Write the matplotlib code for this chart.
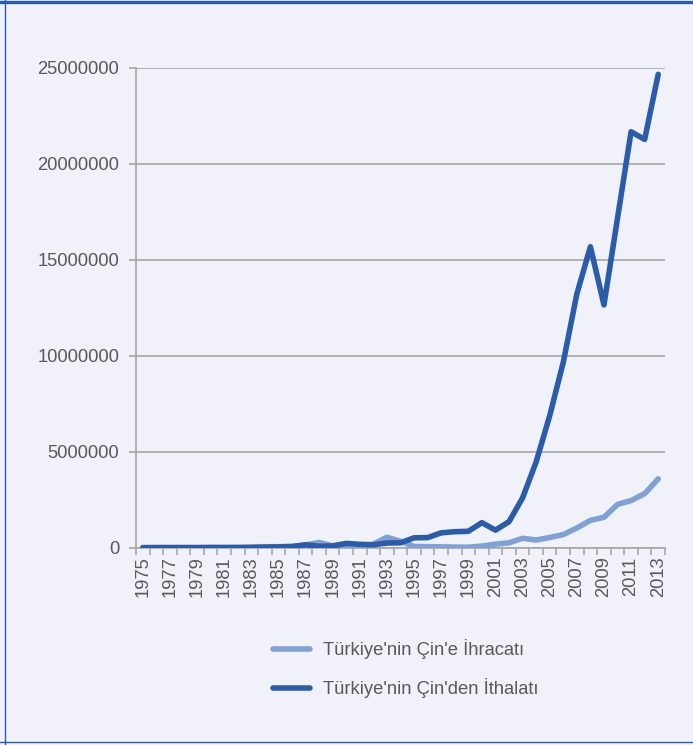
import matplotlib.pyplot as plt
import numpy as np
from matplotlib.lines import Line2D

years = list(range(1975, 2014))
ihracat = [5, 5, 5, 5, 5, 10, 10, 15, 30, 60, 70, 90, 150, 290, 110, 50,
           60, 200, 560, 350, 80, 70, 60, 50, 40, 100, 200, 270, 505, 415,
           550, 700, 1040, 1440, 1600, 2270, 2470, 2830, 3600]
ithalat = [20, 25, 25, 25, 25, 30, 30, 30, 35, 45, 60, 70, 170, 90, 110, 240,
           190, 170, 260, 270, 530, 540, 790, 850, 870, 1320, 930, 1370, 2610, 4480,
           6890, 9670, 13230, 15690, 12660, 17180, 21680, 21280, 24670]
ihracat = [v * 1000 for v in ihracat]
ithalat = [v * 1000 for v in ithalat]
lbl_ihr = "Türkiye'nin Çin'e İhracatı"
lbl_ith = "Türkiye'nin Çin'den İthalatı"

bg = '#F0F1F9'
gray = '#A6A6A6'
txt = '#595959'
fs = 13.2
plt.rcParams['font.family'] = ['Liberation Sans', 'DejaVu Sans']

fig = plt.figure(figsize=(6.93, 7.45), dpi=100, facecolor=bg)
ax = fig.add_axes([136 / 693, 1 - 548 / 745, 529 / 693, 480 / 745])
ax.set_facecolor(bg)

x = np.arange(len(years))
ax.plot(x, ihracat, color='#7FA1D5', lw=4.0, solid_capstyle='round',
        solid_joinstyle='round', label=lbl_ihr, zorder=3)
ax.plot(x, ithalat, color='#2A5CAA', lw=4.0, solid_capstyle='round',
        solid_joinstyle='round', label=lbl_ith, zorder=4)

ax.set_xlim(-0.5, len(years) - 0.5)
ax.set_ylim(0, 25000000)
ax.set_yticks(np.arange(0, 25000001, 5000000))
ax.set_yticklabels([str(int(v)) for v in np.arange(0, 25000001, 5000000)])
ax.yaxis.grid(True, color=gray, lw=1.2)
ax.set_axisbelow(True)

ax.set_xticks(x[::2])
ax.set_xticklabels([str(y) for y in years[::2]], rotation=90)
ax.set_xticks(np.arange(-0.5, len(years), 1), minor=True)
ax.tick_params(axis='x', which='major', length=0, pad=6, labelsize=fs, labelcolor=txt)
ax.tick_params(axis='x', which='minor', length=5, width=1.2, color=gray)
ax.tick_params(axis='y', length=5, width=1.2, color=gray, labelsize=fs, labelcolor=txt, pad=7)

for s in ['top', 'right']:
    ax.spines[s].set_visible(False)
for s in ['left', 'bottom']:
    ax.spines[s].set_color(gray)
    ax.spines[s].set_linewidth(1.2)

leg = fig.legend(loc='upper left', bbox_to_anchor=(273 / 693, 1 - 639 / 745),
                 frameon=False, fontsize=fs, handlelength=2.0, handletextpad=0.72,
                 labelspacing=1.05, borderpad=0, borderaxespad=0)
for t in leg.get_texts():
    t.set_color(txt)

border = '#2A5CAA'
fig.add_artist(Line2D([0, 1], [1 - 1.5 / 745] * 2, color=border, lw=2.4, transform=fig.transFigure))
fig.add_artist(Line2D([5 / 693] * 2, [0, 1], color=border, lw=1.0, transform=fig.transFigure))
fig.add_artist(Line2D([0, 1], [1 - 742 / 745] * 2, color=border, lw=1.0, transform=fig.transFigure))

fig.savefig('out.png', dpi=100, facecolor=bg)
